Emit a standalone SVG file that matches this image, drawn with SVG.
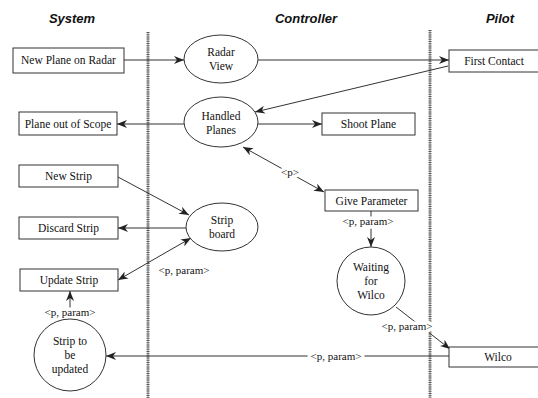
<svg xmlns="http://www.w3.org/2000/svg" width="538" height="398" viewBox="0 0 538 398">
<style>
.box{fill:#fff;stroke:#333;stroke-width:1}
.ell{fill:#fff;stroke:#333;stroke-width:1}
.t{font-family:"Liberation Serif","Times New Roman",serif;font-size:11.5px;fill:#111;text-anchor:middle}
.lbl{font-family:"Liberation Serif","Times New Roman",serif;font-size:11px;fill:#111;text-anchor:middle;stroke:#fff;stroke-width:7;stroke-linejoin:round;paint-order:stroke}
.h{font-family:"Liberation Sans",Arial,sans-serif;font-size:13px;font-weight:bold;font-style:italic;fill:#111;text-anchor:middle}
.c{stroke:#333;stroke-width:1;fill:none}
.div{stroke:#444;stroke-width:3;stroke-dasharray:1 1.2}
.div2{stroke:#777;stroke-width:0.8}
</style>
<defs>
<marker id="a" viewBox="0 0 10 8" refX="10" refY="4" markerWidth="10" markerHeight="8" markerUnits="userSpaceOnUse" orient="auto-start-reverse">
<path d="M0,0 L10,4 L0,8 L3,4 z" fill="#222"/>
</marker>
</defs>
<rect width="538" height="398" fill="#fff"/>
<g id="headers">
<text class="h" x="72" y="23">System</text>
<text class="h" x="306" y="23">Controller</text>
<text class="h" x="500" y="23">Pilot</text>
</g>
<g id="dividers">
<line class="div" x1="148" y1="32" x2="148" y2="398"/>
<line class="div2" x1="148" y1="32" x2="148" y2="398"/>
<line class="div" x1="430" y1="30" x2="430" y2="398"/>
<line class="div2" x1="430" y1="30" x2="430" y2="398"/>
</g>
<g id="connectors">
<line class="c" x1="124" y1="60" x2="184" y2="60" marker-end="url(#a)"/>
<line class="c" x1="258" y1="60" x2="449" y2="60" marker-end="url(#a)"/>
<line class="c" x1="448" y1="66" x2="255" y2="112" marker-end="url(#a)"/>
<line class="c" x1="184" y1="124" x2="117" y2="124" marker-end="url(#a)"/>
<line class="c" x1="258" y1="124" x2="322" y2="124" marker-end="url(#a)"/>
<line class="c" x1="243" y1="147" x2="324" y2="192" marker-start="url(#a)" marker-end="url(#a)"/>
<line class="c" x1="118" y1="177" x2="189" y2="215" marker-end="url(#a)"/>
<line class="c" x1="186" y1="228" x2="118" y2="228" marker-end="url(#a)"/>
<line class="c" x1="118" y1="280" x2="191" y2="238" marker-start="url(#a)" marker-end="url(#a)"/>
<line class="c" x1="371" y1="211" x2="371" y2="247" marker-end="url(#a)"/>
<line class="c" x1="396" y1="307" x2="450" y2="349" marker-end="url(#a)"/>
<line class="c" x1="449" y1="356" x2="106" y2="356" marker-end="url(#a)"/>
<line class="c" x1="70" y1="319" x2="70" y2="291" marker-end="url(#a)"/>
<text class="lbl" x="290" y="176">&lt;p&gt;</text>
<text class="lbl" x="368" y="225">&lt;p, param&gt;</text>
<text class="lbl" x="184" y="274">&lt;p, param&gt;</text>
<text class="lbl" x="407" y="330">&lt;p, param&gt;</text>
<text class="lbl" x="336" y="360">&lt;p, param&gt;</text>
<text class="lbl" x="70" y="316">&lt;p, param&gt;</text>
</g>
<g id="new-plane"><rect class="box" x="13" y="48" width="111" height="25"/><text class="t" x="68.5" y="64">New Plane on Radar</text></g>
<g id="radar-view"><ellipse class="ell" cx="221" cy="59" rx="37" ry="24"/><text class="t" x="221" y="56">Radar</text><text class="t" x="221" y="70">View</text></g>
<g id="first-contact"><rect class="box" x="449" y="50" width="90" height="22"/><text class="t" x="494" y="65">First Contact</text></g>
<g id="plane-out"><rect class="box" x="19" y="112" width="98" height="23"/><text class="t" x="68" y="128">Plane out of Scope</text></g>
<g id="handled-planes"><ellipse class="ell" cx="221" cy="122" rx="37" ry="25"/><text class="t" x="221" y="120">Handled</text><text class="t" x="221" y="134">Planes</text></g>
<g id="shoot-plane"><rect class="box" x="322" y="113" width="93" height="22"/><text class="t" x="368.5" y="128">Shoot Plane</text></g>
<g id="new-strip"><rect class="box" x="19" y="165" width="99" height="22"/><text class="t" x="68.5" y="180">New Strip</text></g>
<g id="discard-strip"><rect class="box" x="19" y="217" width="99" height="22"/><text class="t" x="68.5" y="232">Discard Strip</text></g>
<g id="update-strip"><rect class="box" x="20" y="269" width="98" height="22"/><text class="t" x="69" y="284">Update Strip</text></g>
<g id="strip-board"><ellipse class="ell" cx="222" cy="227" rx="36" ry="24"/><text class="t" x="222" y="224">Strip</text><text class="t" x="222" y="238">board</text></g>
<g id="give-parameter"><rect class="box" x="325" y="190" width="93" height="21"/><text class="t" x="371.5" y="205">Give Parameter</text></g>
<g id="waiting"><circle class="ell" cx="371" cy="281" r="34"/><text class="t" x="371" y="271">Waiting</text><text class="t" x="371" y="285">for</text><text class="t" x="371" y="299">Wilco</text></g>
<g id="strip-updated"><circle class="ell" cx="70" cy="355" r="36"/><text class="t" x="70" y="345">Strip to</text><text class="t" x="70" y="359">be</text><text class="t" x="70" y="373">updated</text></g>
<g id="wilco"><rect class="box" x="449" y="347" width="90" height="20"/><text class="t" x="498" y="361">Wilco</text></g>
</svg>
